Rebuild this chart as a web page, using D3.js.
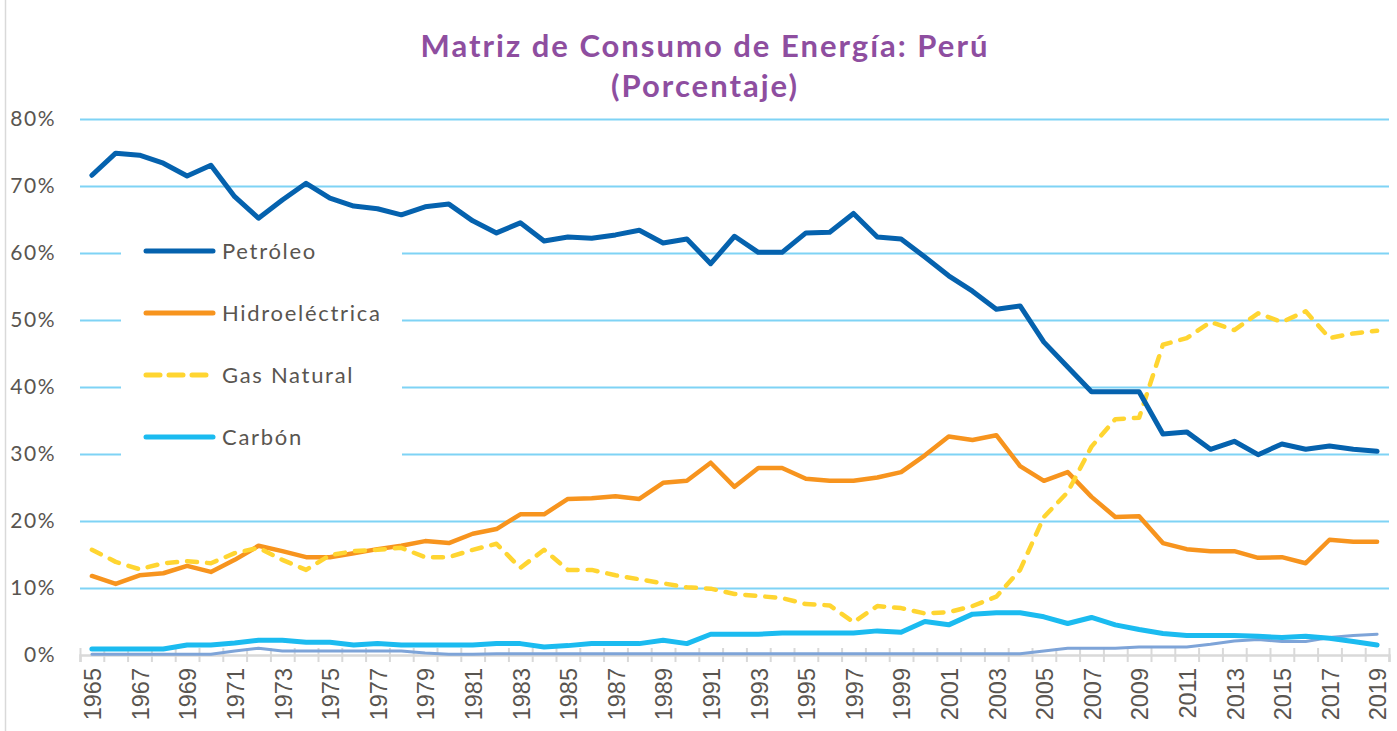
<!DOCTYPE html>
<html>
<head>
<meta charset="utf-8">
<script src="https://cdn.jsdelivr.net/npm/d3@7"></script>
<style>
  html, body { margin: 0; padding: 0; background: #fff; }
  svg { display: block; }
</style>
</head>
<body>
<svg id="chart" width="1397" height="731"></svg>
<script>
const years = d3.range(1965, 2020);
const seriesNames = ["Petróleo", "Hidroeléctrica", "Gas Natural", "Carbón", "Otros"];
const petroleo = [71.6,74.9,74.6,73.4,71.5,73.1,68.4,65.2,67.9,70.4,68.2,67.0,66.6,65.7,66.9,67.3,64.8,63.0,64.5,61.8,62.4,62.2,62.7,63.4,61.5,62.1,58.4,62.5,60.1,60.1,63.0,63.1,65.9,62.4,62.1,59.4,56.6,54.3,51.6,52.1,46.7,43.0,39.3,39.3,39.3,33.0,33.3,30.7,31.9,29.9,31.5,30.7,31.2,30.7,30.4];
const hidro = [11.8,10.6,11.9,12.2,13.3,12.4,14.2,16.3,15.5,14.6,14.6,15.2,15.8,16.3,17.0,16.7,18.1,18.8,21.0,21.0,23.3,23.4,23.7,23.3,25.7,26.0,28.7,25.1,27.9,27.9,26.3,26.0,26.0,26.5,27.3,29.8,32.6,32.1,32.8,28.2,26.0,27.3,23.6,20.6,20.7,16.7,15.8,15.5,15.5,14.5,14.6,13.7,17.2,16.9,16.9];
const gas = [15.7,13.9,12.8,13.7,14.0,13.7,15.2,16.0,14.2,12.7,14.9,15.5,15.7,16.0,14.6,14.6,15.7,16.6,13.0,15.7,12.7,12.7,11.9,11.3,10.7,10.1,9.9,9.1,8.8,8.5,7.6,7.4,4.9,7.3,7.0,6.2,6.4,7.3,8.7,12.7,20.6,24.3,31.1,35.2,35.4,46.3,47.3,49.7,48.5,51.0,49.7,51.3,47.3,48.0,48.4];
const carbon = [0.9,0.9,0.9,0.9,1.5,1.5,1.8,2.2,2.2,1.9,1.9,1.5,1.7,1.5,1.5,1.5,1.5,1.7,1.7,1.2,1.4,1.7,1.7,1.7,2.2,1.7,3.1,3.1,3.1,3.3,3.3,3.3,3.3,3.6,3.4,5.0,4.5,6.1,6.3,6.3,5.7,4.7,5.6,4.5,3.8,3.2,2.9,2.9,2.9,2.8,2.6,2.8,2.5,2.0,1.5];
const otros = [0.1,0.1,0.1,0.1,0.1,0.1,0.6,1.0,0.6,0.6,0.6,0.6,0.6,0.6,0.3,0.1,0.1,0.2,0.2,0.2,0.2,0.2,0.2,0.2,0.2,0.2,0.2,0.2,0.2,0.2,0.2,0.2,0.2,0.2,0.2,0.2,0.2,0.2,0.2,0.2,0.6,1.0,1.0,1.0,1.2,1.2,1.2,1.6,2.1,2.3,2.0,2.0,2.6,2.9,3.1];
const yTicks = [0,10,20,30,40,50,60,70,80];
const titleLines = ["Matriz de Consumo de Energía: Perú", "(Porcentaje)"];

(function () {
const svg = d3.select("#chart");
const W = 1397, H = 731;
const mLeft = 80, mRight = 1389, mTop = 119, mBottom = 655;

const x = d3.scaleBand().domain(years).range([mLeft, mRight]).paddingInner(0).paddingOuter(0);
const xEdge = d3.scaleLinear().domain([0, years.length]).range([mLeft, mRight]);
const y = d3.scaleLinear().domain([0, 80]).range([mBottom, mTop]);
const cx = d => x(d) + x.bandwidth() / 2;

// left frame line
svg.append("line").attr("x1", 5.5).attr("x2", 5.5).attr("y1", 0).attr("y2", H)
  .attr("stroke", "#d9d9d9").attr("stroke-width", 1.5);

// Title
svg.append("g").selectAll("text").data(titleLines).join("text")
  .attr("x", 705).attr("y", (d, i) => 57 + i * 40)
  .attr("text-anchor", "middle")
  .attr("font-family", "Lato, 'Open Sans', sans-serif")
  .attr("font-weight", "bold").attr("font-size", 31)
  .attr("letter-spacing", 2)
  .attr("fill", "#8e4ea0")
  .text(d => d);

// gridlines
const grid = svg.append("g").attr("transform", `translate(${mLeft},0)`)
  .call(d3.axisLeft(y).tickValues(yTicks.slice(1)).tickSize(-(mRight - mLeft)).tickFormat(""));
grid.select(".domain").remove();
grid.selectAll(".tick line").attr("stroke", "#7fd3f5").attr("stroke-width", 2);

// y labels
const yAxis = svg.append("g").attr("transform", `translate(56,0)`)
  .call(d3.axisLeft(y).tickValues(yTicks).tickSize(0).tickPadding(0).tickFormat(d => d + "%"));
yAxis.select(".domain").remove();
yAxis.selectAll("text").attr("font-family", "Lato, 'Open Sans', sans-serif")
  .attr("font-size", 21).attr("fill", "#595550").attr("letter-spacing", 1.5);

// x axis: line and boundary ticks
const xAx = svg.append("g").attr("transform", `translate(0,${mBottom})`)
  .call(d3.axisBottom(xEdge).tickValues(d3.range(years.length + 1)).tickSize(7).tickFormat(""));
xAx.select(".domain").attr("stroke", "#d9d9d9").attr("stroke-width", 2.5);
xAx.selectAll(".tick line").attr("y1", -7).attr("stroke", "#d9d9d9").attr("stroke-width", 2);

// x labels
const labelYears = years.filter((d, i) => i % 2 === 0);
const xLab = svg.append("g").attr("transform", `translate(0,${mBottom})`)
  .call(d3.axisBottom(x).tickValues(labelYears).tickSize(0).tickFormat(d3.format("d")));
xLab.select(".domain").remove();
xLab.selectAll("text")
  .attr("font-family", "'Liberation Sans', Arial, sans-serif")
  .attr("font-size", 23.5).attr("fill", "#595550")
  .attr("text-anchor", "end")
  .attr("transform", "rotate(-90)")
  .attr("x", -13).attr("y", 1).attr("dy", "0.35em");

// legend box (covers gridlines)
svg.append("rect").attr("x", 121).attr("y", 222).attr("width", 281).attr("height", 242).attr("fill", "#fff");

const colors = ["#0562ae", "#f7941e", "#ffd531", "#1bbbf0", "#7ea4d8"];
const widths = [5, 4.5, 4.5, 5, 3];
const dashes = [null, null, "10,10", null, null];
const data = [petroleo, hidro, gas, carbon, otros];

const line = d3.line().x((d, i) => cx(years[i])).y(d => y(d));

const order = [4, 3, 1, 2, 0];
svg.append("g").selectAll("path").data(order).join("path")
  .attr("d", k => line(data[k]))
  .attr("fill", "none")
  .attr("stroke", k => colors[k])
  .attr("stroke-width", k => widths[k])
  .attr("stroke-linejoin", "round")
  .attr("stroke-linecap", "round")
  .attr("stroke-dasharray", k => dashes[k]);

// legend
const legend = svg.append("g");
const legItems = [0, 1, 2, 3];
const lg = legend.selectAll("g").data(legItems).join("g")
  .attr("transform", (k, i) => `translate(0,${251 + i * 62})`);
lg.append("line").attr("x1", 146).attr("x2", 213).attr("y1", 0).attr("y2", 0)
  .attr("stroke", k => colors[k]).attr("stroke-width", 5)
  .attr("stroke-linecap", "round")
  .attr("stroke-dasharray", k => k === 2 ? "14,9" : null);
lg.append("text").attr("x", 222).attr("y", 0).attr("dy", "0.35em")
  .attr("font-family", "Lato, 'Open Sans', sans-serif")
  .attr("font-size", 22).attr("fill", "#595550").attr("letter-spacing", 1.7)
  .text(k => seriesNames[k]);
})();
</script>
</body>
</html>
